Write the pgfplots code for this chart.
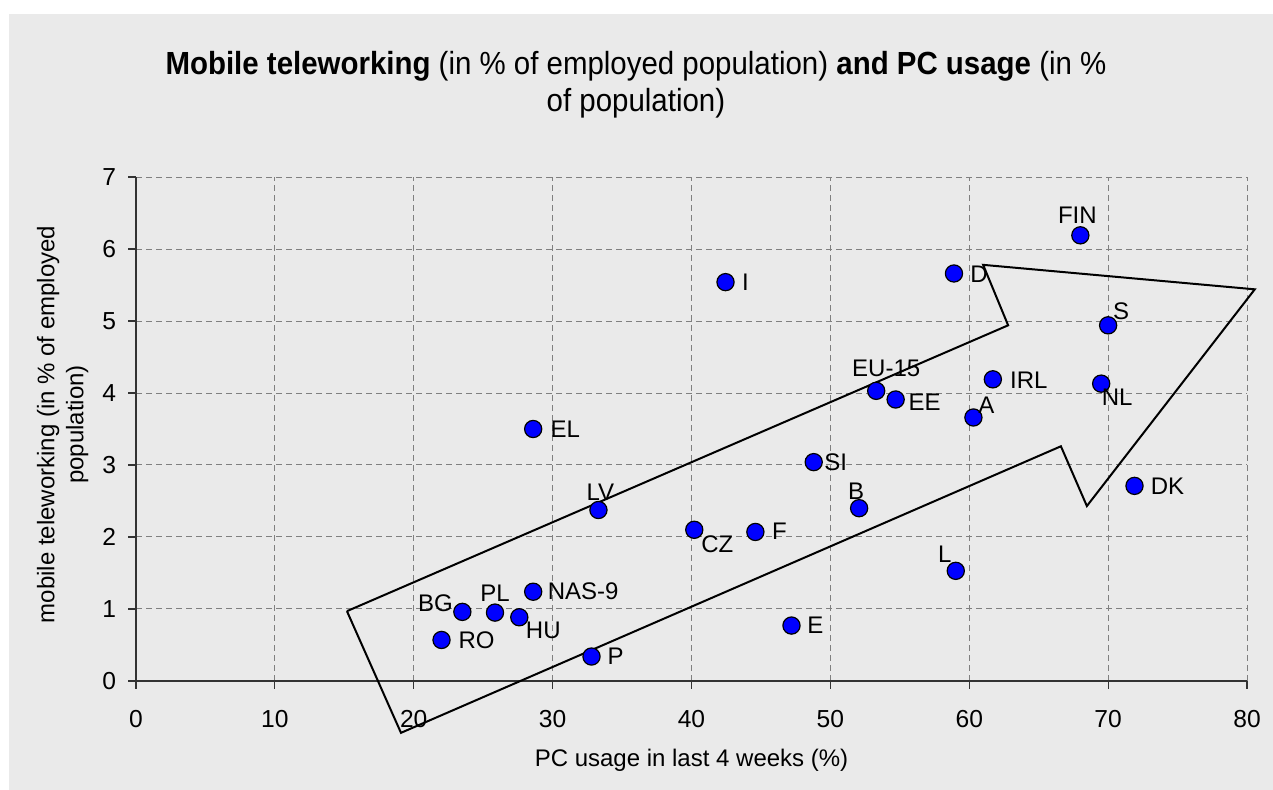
\documentclass[border=0pt]{standalone}
\usepackage{fontspec}
\setmainfont{Liberation Sans}
\newfontfamily\titlefont[FakeStretch=0.92]{Liberation Sans}
\usepackage{pgfplots}
\usepackage{pgfplotstable}
\pgfplotsset{compat=1.18}

\definecolor{chartbg}{RGB}{234,234,234}
\definecolor{gridgray}{RGB}{128,128,128}
\definecolor{ptblue}{RGB}{0,0,255}

% x = PC usage (%), y = mobile teleworking (%), dx/dy = label offset in pt
\pgfplotstableread{
x     y     label  dx     dy
28.6  3.50  EL     16     0
33.3  2.375 LV     1      9
40.2  2.10  CZ     11.5   -7
44.6  2.07  F      12     0.5
48.8  3.04  SI     11     0
28.6  1.24  NAS-9  25     0
23.5  0.96  BG     -13.5  4.5
25.85 0.95  PL     0      9.5
27.6  0.885 HU     12     -6.5
22.0  0.57  RO     17.5   0
32.8  0.34  P      12     0
47.2  0.77  E      12     0
68.0  6.19  FIN    -1.5   10
58.9  5.66  D      12.5   -0.5
70.0  4.94  S      6.5    7
61.7  4.19  IRL    18     -0.5
69.5  4.13  NL     8      -7
53.3  4.03  EU-15  5      11
54.7  3.91  EE     14.5   -1.5
60.3  3.66  A      6.5    6
71.9  2.71  DK     16.5   0
42.45 5.54  I      10     0
52.07 2.40  B      -1.5   8.5
59.03 1.53  L      -5.5   8.5
}\countries

% outline of the big arrow
\pgfplotstableread{
x     y
15.19 0.97
62.8  4.94
61.0  5.78
80.56 5.44
68.47 2.43
66.6  3.26
19.08 -0.72
15.19 0.97
}\arrowshape

\begin{document}
\begin{tikzpicture}
\path[use as bounding box] (-68pt,-54.5pt) rectangle (568.5pt,340.5pt);
\fill[chartbg] (-63.5pt,-54.5pt) rectangle (568.5pt,333.5pt);
\begin{axis}[
    at={(0pt,0pt)}, anchor=south west,
    scale only axis,
    width=555.5pt, height=252pt,
    xmin=0, xmax=80, ymin=0, ymax=7,
    xtick={0,10,...,80}, ytick={0,1,...,7},
    axis lines*=left,
    axis line style={black!80, line width=0.6pt},
    tick align=outside,
    major tick length=4pt,
    tick style={black!80, line width=0.6pt},
    grid=major,
    major grid style={gridgray, dash pattern=on 3pt off 2pt, line width=0.5pt},
    clip=false,
    /pgf/number format/assume math mode=true,
    tick label style={font=\fontsize{12.3}{14}\selectfont},
    xticklabel style={yshift=-7pt},
    yticklabel style={xshift=-2.5pt},
    every axis title/.style={at={(axis description cs:0.45,1.25)}, anchor=north,
        align=center, inner sep=0pt, font=\titlefont\fontsize{16}{18.5}\selectfont},
    title={\textbf{Mobile teleworking} (in \% of employed population) \textbf{and PC usage} (in \%\\of population)},
    every axis x label/.style={at={(axis description cs:0.5,-0.1687)}, anchor=base,
        font=\fontsize{12}{14.4}\selectfont},
    xlabel={PC usage in last 4 weeks (\%)},
    every axis y label/.style={at={(axis description cs:-0.066,0.509)}, anchor=center,
        rotate=90, align=center, font=\fontsize{12}{14.5}\selectfont},
    ylabel={mobile teleworking (in \% of employed\\population)},
]
\addplot[black, line width=1pt, no marks] table[x=x, y=y] {\arrowshape};
\addplot[only marks, mark=*, mark size=4.3pt,
    mark options={fill=ptblue, draw=black, line width=0.6pt},
    point meta=explicit symbolic,
    visualization depends on={\thisrow{dx} \as \lblx},
    visualization depends on={\thisrow{dy} \as \lbly},
    nodes near coords,
    nodes near coords style={anchor=center, inner sep=0pt, xshift=\lblx pt, yshift=\lbly pt,
        font=\fontsize{12}{14}\selectfont, text=black},
] table[x=x, y=y, meta=label] {\countries};
\end{axis}
\end{tikzpicture}
\end{document}
